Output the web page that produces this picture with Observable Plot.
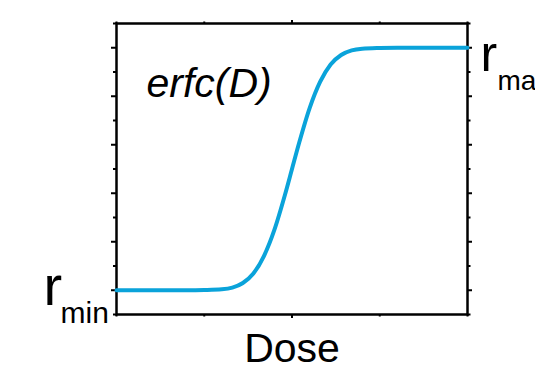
<!DOCTYPE html>
<html>
<head>
<meta charset="utf-8">
<script src="https://cdn.jsdelivr.net/npm/d3@7"></script>
<script src="https://cdn.jsdelivr.net/npm/@observablehq/plot@0.6"></script>
<style>
  html, body { margin: 0; padding: 0; background: #fff; }
  #chart svg { display: block; }
</style>
</head>
<body>
<div id="chart"></div>
<script>
// Curve: dose (0..1) vs normalized response (0 = r_min, 1 = r_max)
const dose = [0, 0.1, 0.2, 0.25, 0.3, 0.33, 0.36, 0.39, 0.42, 0.45, 0.48, 0.5, 0.52, 0.55, 0.58, 0.61, 0.64, 0.67, 0.7, 0.75, 0.8, 0.9, 1.0];
const response = [0, 0, 0, 0.001, 0.004, 0.011, 0.03, 0.069, 0.141, 0.25, 0.394, 0.5, 0.606, 0.75, 0.859, 0.931, 0.97, 0.989, 0.996, 0.999, 1, 1, 1];

// Tick positions (no labels shown)
const yMajorTicks = [0, 0.2, 0.4, 0.6, 0.8, 1.0];
const yMinorTicks = [-0.1, 0.1, 0.3, 0.5, 0.7, 0.9, 1.1];
const xMajorTicks = [0.5];
const xMinorTicks = [0, 0.25, 0.75, 1];

// Text labels
const rLetter = "r";
const minSub = "min";
const maxSub = "max";
const funcLabel = "erfc(D)";
const xLabel = "Dose";

const data = dose.map((d, i) => ({dose: d, r: response[i]}));
const blank = () => "";
const font = "'Liberation Sans', Arial, Helvetica, sans-serif";

const chart = Plot.plot({
  width: 535,
  height: 365,
  marginLeft: 116,
  marginRight: 68,
  marginTop: 23,
  marginBottom: 51,
  style: {background: "#fff", fontFamily: font, overflow: "visible"},
  x: {domain: [0, 1]},
  y: {domain: [-0.1, 1.1]},
  marks: [
    // left axis ticks
    Plot.axisY({anchor: "left", ticks: yMajorTicks, tickSize: 5, tickFormat: blank, strokeWidth: 2, label: null, stroke: "#000"}),
    Plot.axisY({anchor: "left", ticks: yMinorTicks, tickSize: 3, tickFormat: blank, strokeWidth: 2, label: null, stroke: "#000"}),
    // right axis ticks
    Plot.axisY({anchor: "right", ticks: yMajorTicks, tickSize: 4, tickFormat: blank, strokeWidth: 2, label: null, stroke: "#000"}),
    Plot.axisY({anchor: "right", ticks: yMinorTicks, tickSize: 2.5, tickFormat: blank, strokeWidth: 2, label: null, stroke: "#000"}),
    // bottom / top ticks
    Plot.axisX({anchor: "bottom", ticks: xMajorTicks, tickSize: 4, tickFormat: blank, strokeWidth: 2, label: null, stroke: "#000"}),
    Plot.axisX({anchor: "bottom", ticks: xMinorTicks, tickSize: 2.5, tickFormat: blank, strokeWidth: 2, label: null, stroke: "#000"}),
    Plot.axisX({anchor: "top", ticks: xMajorTicks, tickSize: 4, tickFormat: blank, strokeWidth: 2, label: null, stroke: "#000"}),
    Plot.axisX({anchor: "top", ticks: xMinorTicks, tickSize: 2.5, tickFormat: blank, strokeWidth: 2, label: null, stroke: "#000"}),
    Plot.frame({stroke: "#000", strokeWidth: 2.5}),
    Plot.line(data, {x: "dose", y: "r", stroke: "#0aa3da", strokeWidth: 4, curve: "monotone-x"}),
    // r_min label
    Plot.text([rLetter], {x: () => 0, y: () => 0, text: d => d, textAnchor: "start", lineAnchor: "bottom", dx: -73, dy: 15, fontSize: 56, fill: "#000", fontFamily: font}),
    Plot.text([minSub], {x: () => 0, y: () => 0, text: d => d, textAnchor: "start", lineAnchor: "bottom", dx: -56, dy: 33, fontSize: 30, fill: "#000", fontFamily: font}),
    // r_max label
    Plot.text([rLetter], {x: () => 1, y: () => 1, text: d => d, textAnchor: "start", lineAnchor: "bottom", dx: 13, dy: 23, fontSize: 50, fill: "#000", fontFamily: font}),
    Plot.text([maxSub], {x: () => 1, y: () => 1, text: d => d, textAnchor: "start", lineAnchor: "bottom", dx: 30, dy: 42, fontSize: 28, fill: "#000", fontFamily: font}),
    // function label
    Plot.text([funcLabel], {frameAnchor: "top-left", text: d => d, textAnchor: "start", lineAnchor: "bottom", dx: 30, dy: 73, fontSize: 41, fontStyle: "italic", fill: "#000", fontFamily: font}),
    // x label
    Plot.text([xLabel], {frameAnchor: "bottom", text: d => d, textAnchor: "middle", lineAnchor: "bottom", dy: 47, fontSize: 41, fill: "#000", fontFamily: font})
  ]
});

document.getElementById("chart").appendChild(chart);
</script>
</body>
</html>
